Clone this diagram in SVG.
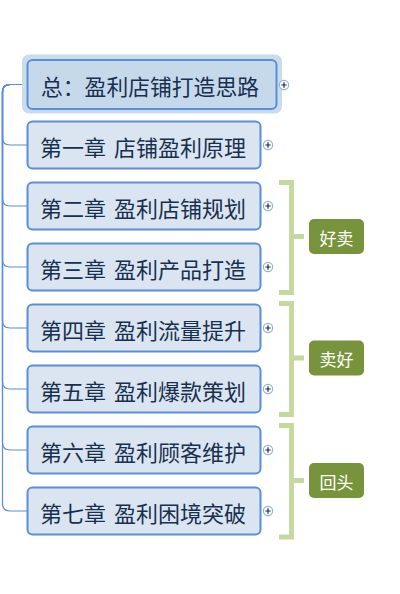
<svg xmlns="http://www.w3.org/2000/svg" width="400" height="594" viewBox="0 0 400 594">
<style>
.bg{fill:#ffffff}
.conn{fill:none;stroke:#5a8ed6;stroke-width:1.2}
.box{fill:#dbe5f1;stroke:#5a8ed6;stroke-width:2}
.rootbox{fill:#c6d9eb;stroke:#5a8ed6;stroke-width:2}
.glow{fill:#c9dcec}
.t{font-family:"Noto Sans CJK SC","Microsoft YaHei",sans-serif;font-size:22px;word-spacing:3px;fill:#17304f;dominant-baseline:central}
.rt{font-size:21.8px}
.plus circle{fill:#ffffff;stroke:#8db3e2;stroke-width:1.2}
.plus path{stroke:#2a2a2a;stroke-width:1.2;fill:none}
.br{fill:none;stroke:#c5d89e;stroke-width:4.8}
.lab{fill:#77933c}
.lt{font-family:"Noto Sans CJK SC","Microsoft YaHei",sans-serif;font-size:17px;fill:#ffffff;text-anchor:middle;dominant-baseline:central}
</style>
<defs>
<g id="plus" class="plus"><circle r="4.6"/><path d="M-2.7,0H2.7M0,-2.7V2.7"/></g>
</defs>
<rect class="bg" width="400" height="594"/>
<g id="connectors">
<path class="conn" d="M27,84.5H10Q2.5,84.5 2.5,92V137.5Q2.5,145 10,145H27"/>
<path class="conn" d="M27,84.5H10Q2.5,84.5 2.5,92V198.5Q2.5,206 10,206H27"/>
<path class="conn" d="M27,84.5H10Q2.5,84.5 2.5,92V259.5Q2.5,267 10,267H27"/>
<path class="conn" d="M27,84.5H10Q2.5,84.5 2.5,92V320.5Q2.5,328 10,328H27"/>
<path class="conn" d="M27,84.5H10Q2.5,84.5 2.5,92V381.5Q2.5,389 10,389H27"/>
<path class="conn" d="M27,84.5H10Q2.5,84.5 2.5,92V442.5Q2.5,450 10,450H27"/>
<path class="conn" d="M27,84.5H10Q2.5,84.5 2.5,92V503.5Q2.5,511 10,511H27"/>
</g>
<g id="root">
<rect class="glow" x="22" y="54.5" width="260" height="59" rx="7"/>
<rect class="rootbox" x="27.5" y="60" width="249" height="49" rx="5"/>
<text class="t rt" x="41" y="85">总：盈利店铺打造思路</text>
<use href="#plus" x="284" y="85"/>
</g>
<g id="ch1">
<rect class="box" x="27.5" y="121.5" width="233" height="47" rx="5"/>
<text class="t" x="40" y="146">第一章 店铺盈利原理</text>
<use href="#plus" x="268" y="145"/>
</g>
<g id="ch2">
<rect class="box" x="27.5" y="182.5" width="233" height="47" rx="5"/>
<text class="t" x="40" y="207">第二章 盈利店铺规划</text>
<use href="#plus" x="268" y="206"/>
</g>
<g id="ch3">
<rect class="box" x="27.5" y="243.5" width="233" height="47" rx="5"/>
<text class="t" x="40" y="268">第三章 盈利产品打造</text>
<use href="#plus" x="268" y="267"/>
</g>
<g id="ch4">
<rect class="box" x="27.5" y="304.5" width="233" height="47" rx="5"/>
<text class="t" x="40" y="329">第四章 盈利流量提升</text>
<use href="#plus" x="268" y="328"/>
</g>
<g id="ch5">
<rect class="box" x="27.5" y="365.5" width="233" height="47" rx="5"/>
<text class="t" x="40" y="390">第五章 盈利爆款策划</text>
<use href="#plus" x="268" y="389"/>
</g>
<g id="ch6">
<rect class="box" x="27.5" y="426.5" width="233" height="47" rx="5"/>
<text class="t" x="40" y="451">第六章 盈利顾客维护</text>
<use href="#plus" x="268" y="450"/>
</g>
<g id="ch7">
<rect class="box" x="27.5" y="487.5" width="233" height="47" rx="5"/>
<text class="t" x="40" y="512">第七章 盈利困境突破</text>
<use href="#plus" x="268" y="511"/>
</g>
<g id="group1">
<path class="br" d="M279,182.5H291.5V292.5H279M291.5,236.5H304"/>
<rect class="lab" x="309" y="219" width="55" height="35" rx="5"/>
<text class="lt" x="336.5" y="237">好卖</text>
</g>
<g id="group2">
<path class="br" d="M279,303.5H291.5V414.5H279M291.5,358H304"/>
<rect class="lab" x="309" y="340.5" width="55" height="35" rx="5"/>
<text class="lt" x="336.5" y="358.5">卖好</text>
</g>
<g id="group3">
<path class="br" d="M279,425.5H291.5V537H279M291.5,480.5H304"/>
<rect class="lab" x="309" y="463" width="55" height="35" rx="5"/>
<text class="lt" x="336.5" y="481">回头</text>
</g>
</svg>
